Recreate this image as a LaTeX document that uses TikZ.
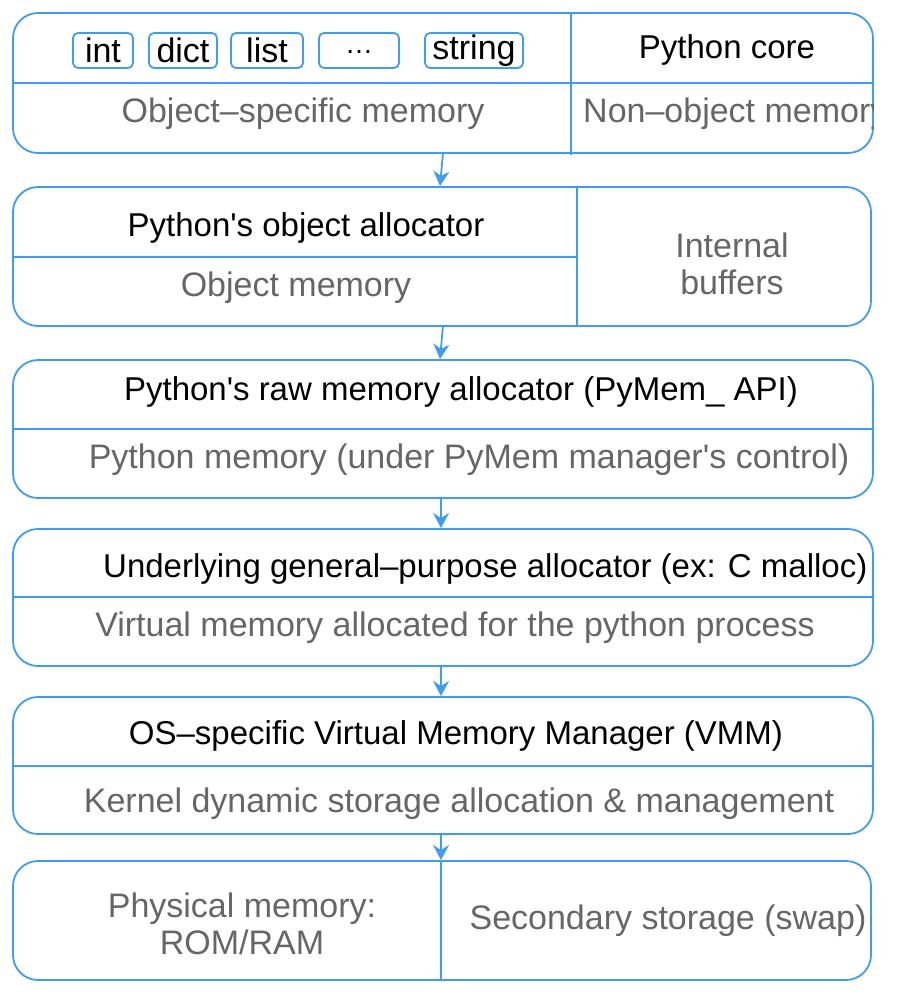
\documentclass[tikz,border=0pt]{standalone}
\usepackage{fontspec}
\setmainfont{Liberation Sans}
\usetikzlibrary{arrows.meta}
\definecolor{lineblue}{RGB}{64,156,240}
\definecolor{txtgray}{RGB}{102,102,102}
\newcommand{\sq}{\textquotesingle}
\tikzset{
  layer/.style={draw=lineblue, line width=1.8pt, rounded corners=25pt, rectangle, inner sep=0pt},
  tag/.style={draw=lineblue, line width=1.8pt, rounded corners=5pt, rectangle, inner sep=0pt, minimum height=35pt, font=\fontsize{34}{40}\selectfont},
  divider/.style={draw=lineblue, line width=1.8pt},
  head/.style={font=\fontsize{33}{40}\selectfont, text=black, inner sep=0pt, yshift=-3pt},
  sub/.style={font=\fontsize{34}{37}\selectfont, text=txtgray, inner sep=0pt, align=center, yshift=-3pt},
  flow/.style={draw=lineblue, line width=1.8pt, -{Stealth[length=15pt,width=16pt,inset=5pt]}}
}
\begin{document}
\begin{tikzpicture}[x=1pt,y=-1pt]
\useasboundingbox (0,0) rectangle (914,994);
% boxes
\node[layer, minimum width=860pt, minimum height=140pt] (b1) at (443,83) {};
\node[layer, minimum width=858pt, minimum height=139pt] (b2) at (442,256.5) {};
\node[layer, minimum width=860pt, minimum height=138pt] (b3) at (443,429) {};
\node[layer, minimum width=860pt, minimum height=137pt] (b4) at (443,597.5) {};
\node[layer, minimum width=860pt, minimum height=137pt] (b5) at (443,765.5) {};
\node[layer, minimum width=858pt, minimum height=119pt] (b6) at (442,920.5) {};
% box 1 dividers
\coordinate (b1hl) at (13,83); \coordinate (b1hr) at (873,83);
\coordinate (b1vt) at (571,13); \coordinate (b1vb) at (571,155);
\draw[divider] (b1hl) -- (b1hr);
\draw[divider] (b1vt) -- (b1vb);
% tags
\node[tag, minimum width=60pt] (tint) at (103,50.5) {\raisebox{-3pt}{int}};
\node[tag, minimum width=68pt] (tdict) at (183,50.5) {\raisebox{-3pt}{dict}};
\node[tag, minimum width=72pt] (tlist) at (267,50.5) {\raisebox{-3pt}{list}};
\node[tag, minimum width=80pt] (tdots) at (359,50.5) {\raisebox{-3pt}{\vphantom{int}\fontsize{28}{30}\selectfont\raisebox{9pt}{…}}};
\node[tag, minimum width=98pt] (tstr) at (474,50.5) {\raisebox{-3pt}{string}};
\node[head] (pcore) at (727,47) {Python core};
\node[sub] (osm) at (303,111) {Object–specific memory};
\begin{scope}
\clip[rounded corners=25pt] (b1.north west) rectangle (b1.south east);
\node[sub, anchor=west] (nom) at (583,111) {Non–object memory};
\end{scope}
% box 2
\coordinate (b2hl) at (13,257); \coordinate (b2hr) at (577,257);
\coordinate (b2vt) at (577,187); \coordinate (b2vb) at (577,326);
\draw[divider] (b2hl) -- (b2hr);
\draw[divider] (b2vt) -- (b2vb);
\node[head] (poa) at (306,225) {Python\sq s object allocator};
\node[sub] (om) at (296,285) {Object memory};
\node[sub] (ib) at (732,261) {Internal\\buffers};
% box 3
\coordinate (b3hl) at (13,429); \coordinate (b3hr) at (873,429);
\draw[divider] (b3hl) -- (b3hr);
\node[head] (praw) at (461,389) {Python\sq s raw memory allocator (PyMem\_ API)};
\node[sub] (pm) at (469,457) {Python memory (under PyMem manager\sq s control)};
% box 4
\coordinate (b4hl) at (13,597); \coordinate (b4hr) at (873,597);
\draw[divider] (b4hl) -- (b4hr);
\node[head, anchor=west] (ugp) at (103,566) {Underlying general–purpose allocator (ex: C malloc)};
\node[sub] (vm) at (455,625) {Virtual memory allocated for the python process};
% box 5
\coordinate (b5hl) at (13,766); \coordinate (b5hr) at (873,766);
\draw[divider] (b5hl) -- (b5hr);
\node[head] (vmm) at (456,733) {OS–specific Virtual Memory Manager (VMM)};
\node[sub] (kds) at (459,801) {Kernel dynamic storage allocation \& management};
% box 6
\coordinate (b6vt) at (441,861); \coordinate (b6vb) at (441,980);
\draw[divider] (b6vt) -- (b6vb);
\node[sub] (phys) at (242,921) {Physical memory:\\ROM/RAM};
\node[sub] (sec) at (668,918) {Secondary storage (swap)};
% arrows
\coordinate (a1s) at (443,153); \coordinate (a1e) at (440,186);
\coordinate (a2s) at (443,326); \coordinate (a2e) at (440,359);
\coordinate (a3s) at (441,498); \coordinate (a3e) at (441,528);
\coordinate (a4s) at (441,666); \coordinate (a4e) at (441,696);
\coordinate (a5s) at (441,834); \coordinate (a5e) at (441,860);
\draw[flow] (a1s) -- (a1e);
\draw[flow] (a2s) -- (a2e);
\draw[flow] (a3s) -- (a3e);
\draw[flow] (a4s) -- (a4e);
\draw[flow] (a5s) -- (a5e);
\end{tikzpicture}
\end{document}
